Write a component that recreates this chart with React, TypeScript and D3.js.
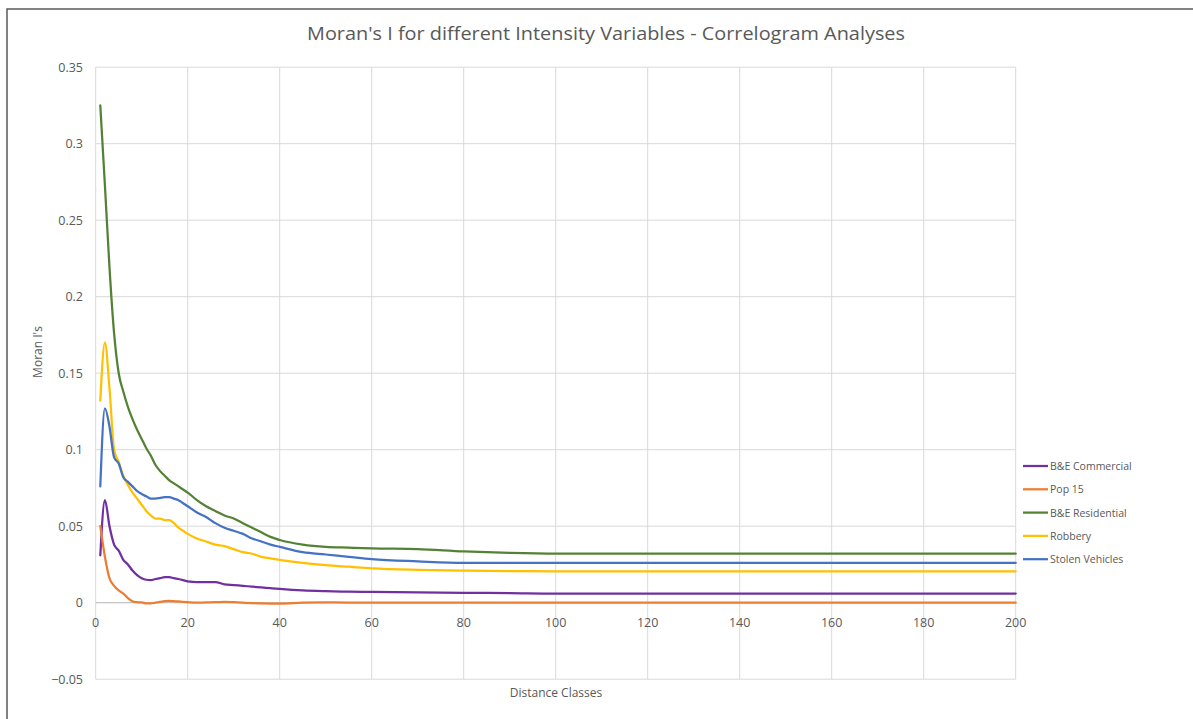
import React from "react";
import * as d3 from "d3";

const distances = [1,2,3,4,5,6,7,8,9,10,11,12,13,14,15,16,17,18,19,20,22,24,26,28,30,32,34,36,38,40,45,50,55,60,70,80,90,100,120,140,160,180,200];

const beCommercial = [0.031,0.067,0.050,0.038,0.034,0.028,0.025,0.021,0.018,0.016,0.015,0.0148,0.0155,0.016,0.0167,0.0167,0.016,0.0155,0.0148,0.014,0.0135,0.0135,0.0135,0.012,0.0115,0.011,0.0105,0.010,0.0095,0.009,0.008,0.0075,0.0072,0.007,0.0068,0.0065,0.0063,0.006,0.006,0.006,0.006,0.006,0.006];
const pop15 = [0.050,0.030,0.016,0.011,0.008,0.006,0.003,0.001,0.0003,0.0002,-0.0005,-0.0005,0,0.0005,0.001,0.0012,0.001,0.0008,0.0005,0.0003,0,0.0002,0.0003,0.0005,0.0003,0,-0.0003,-0.0005,-0.0006,-0.0006,0,0.0002,0.0001,0,0,0,0,0,0,0,0,0,0];
const beResidential = [0.325,0.273,0.219,0.176,0.150,0.138,0.128,0.120,0.113,0.107,0.101,0.096,0.090,0.086,0.083,0.080,0.078,0.076,0.074,0.072,0.067,0.063,0.060,0.057,0.055,0.052,0.049,0.046,0.043,0.041,0.038,0.0365,0.036,0.0355,0.035,0.0335,0.0325,0.032,0.032,0.032,0.032,0.032,0.032];
const robbery = [0.132,0.170,0.140,0.100,0.092,0.083,0.077,0.072,0.068,0.064,0.060,0.057,0.055,0.055,0.054,0.054,0.052,0.049,0.047,0.045,0.042,0.040,0.038,0.037,0.035,0.033,0.032,0.030,0.029,0.028,0.026,0.0245,0.0235,0.0225,0.0215,0.021,0.0207,0.0205,0.0205,0.0205,0.0205,0.0205,0.0205];
const stolenVehicles = [0.076,0.127,0.115,0.095,0.091,0.082,0.079,0.076,0.073,0.071,0.0695,0.068,0.068,0.0685,0.069,0.069,0.068,0.067,0.065,0.063,0.059,0.056,0.052,0.049,0.047,0.045,0.042,0.040,0.038,0.0365,0.033,0.0315,0.030,0.0285,0.027,0.026,0.026,0.026,0.026,0.026,0.026,0.026,0.026];

const seriesNames = ["B&E Commercial", "Pop 15", "B&E Residential", "Robbery", "Stolen Vehicles"];
const seriesColors = ["#7030A0", "#ED7D31", "#548235", "#FFC000", "#4472C4"];
const seriesValues = [beCommercial, pop15, beResidential, robbery, stolenVehicles];

const xTicks = [0,20,40,60,80,100,120,140,160,180,200];
const yTicks = [-0.05,0,0.05,0.1,0.15,0.2,0.25,0.3,0.35];

const FONT = "'Open Sans', 'Liberation Sans', sans-serif";

export default function App() {
  const W = 1193, H = 719;
  const x = d3.scaleLinear().domain([0, 200]).range([95.7, 1015.7]);
  const y = d3.scaleLinear().domain([-0.05, 0.35]).range([679.2, 67.2]);
  const line = d3.line<[number, number]>()
    .x(d => x(d[0]))
    .y(d => y(d[1]))
    .curve(d3.curveMonotoneX);

  return (
    <svg width={W} height={H} style={{ position: "absolute", left: 0, top: 0, background: "#fff" }}>
      <rect x={0} y={0} width={W} height={H} fill="#fff" />
      <rect x={7} y={9} width={1250} height={780} fill="none" stroke="#595959" strokeWidth={1.5} />
      <text x={606} y={40} textAnchor="middle" fontFamily={FONT} fontSize={19} fill="#595959"
        textLength={598} lengthAdjust="spacingAndGlyphs">
        Moran's I for different Intensity Variables - Correlogram Analyses
      </text>
      {yTicks.map(t => (
        <g key={"y" + t}>
          <line x1={x(0)} x2={x(200)} y1={y(t)} y2={y(t)} stroke="#d9d9d9" strokeWidth={1} />
          <text x={83} y={y(t) + 4.5} textAnchor="end" fontFamily={FONT} fontSize={12.5} fill="#595959">
            {t === 0 ? "0" : d3.format("")(t)}
          </text>
        </g>
      ))}
      {xTicks.map(t => (
        <g key={"x" + t}>
          <line x1={x(t)} x2={x(t)} y1={y(0.35)} y2={y(-0.05)} stroke="#d9d9d9" strokeWidth={1} />
          <text x={x(t)} y={626.5} textAnchor="middle" fontFamily={FONT} fontSize={12.5} fill="#595959">
            {t}
          </text>
        </g>
      ))}
      <line x1={x(0)} x2={x(200)} y1={y(0)} y2={y(0)} stroke="#bfbfbf" strokeWidth={1} />
      {seriesValues.map((vals, i) => (
        <path
          key={seriesNames[i]}
          d={line(distances.map((d, j) => [d, vals[j]] as [number, number])) || ""}
          fill="none"
          stroke={seriesColors[i]}
          strokeWidth={2.25}
          strokeLinejoin="round"
          strokeLinecap="round"
        />
      ))}
      <text transform={`translate(42,352) rotate(-90)`} textAnchor="middle" fontFamily={FONT} fontSize={12} fill="#595959">
        Moran I's
      </text>
      <text x={556} y={697} textAnchor="middle" fontFamily={FONT} fontSize={12} fill="#595959">
        Distance Classes
      </text>
      {seriesNames.map((n, i) => {
        const ly = 466 + i * 23.3;
        return (
          <g key={"lg" + n}>
            <line x1={1023} x2={1048} y1={ly} y2={ly} stroke={seriesColors[i]} strokeWidth={2.25} />
            <text x={1050} y={ly + 4} fontFamily={FONT} fontSize={10.5} fill="#595959">{n}</text>
          </g>
        );
      })}
    </svg>
  );
}
